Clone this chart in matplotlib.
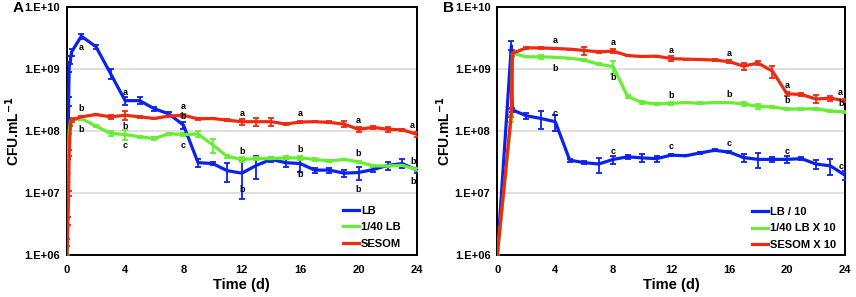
import numpy as np
import matplotlib
matplotlib.use('Agg')
import matplotlib.pyplot as plt
from matplotlib.lines import Line2D
from matplotlib.ticker import FixedLocator, FixedFormatter, NullLocator

plt.rcParams['font.family'] = ['Liberation Sans', 'DejaVu Sans']
plt.rcParams['font.weight'] = 'bold'
plt.rcParams['mathtext.default'] = 'bf'

# panel A : time in days (first points are hours 0,1,2,3,4,6,8)
time_a = [0, 0.042, 0.083, 0.125, 0.167, 0.25, 0.333] + list(range(1, 25))

lb_a = [1e6, 1.0e7, 4.5e7, 3e8, 1.1e9, 1.4e9, 1.9e9,
        3.4e9, 2.3e9, 8.5e8, 3.1e8, 3.1e8, 2.3e8, 1.9e8, 1.25e8, 3.1e7, 3.0e7,
        2.3e7, 2.1e7, 2.8e7, 3.5e7, 3.1e7, 3.0e7, 2.35e7, 2.35e7, 2.1e7, 2.15e7,
        2.4e7, 2.8e7, 3.0e7, 2.35e7]
lb_a_err = [0, 2e6, 1e7, 5e7, 2e8, 2e8, 2.5e8,
            3e8, 1.5e8, 1.5e8, 5e7, 4e7, 1.5e7, 1.5e7, 1.5e7, 5e6, 2e6,
            8e6, 1.3e7, 1.1e7, 3e6, 5e6, 8e6, 2e6, 2e6, 3e6, 5e6,
            2e6, 4e6, 5e6, 2e6]

lb40_a = [1e6, 3.5e6, 1.8e7, 4.5e7, 1.0e8, 1.4e8, 1.5e8,
          1.6e8, 1.2e8, 9.2e7, 8.8e7, 8.1e7, 7.6e7, 9.1e7, 8.8e7, 9.0e7, 6.0e7,
          3.9e7, 3.5e7, 3.6e7, 3.6e7, 3.7e7, 3.7e7, 3.5e7, 3.3e7, 3.5e7, 3.2e7,
          2.75e7, 2.75e7, 2.8e7, 2.4e7]
lb40_a_err = [0, 5e5, 3e6, 5e6, 1e7, 1e7, 1e7,
              1e7, 5e6, 1e7, 1.5e7, 3e6, 5e6, 3e6, 5e6, 1e7, 1.5e7,
              2e6, 3e6, 2e6, 2e6, 2e6, 3e6, 2e6, 1e6, 1e6, 1.5e6,
              1e6, 1e6, 1e6, 1e6]

sesom_a = [1e6, 1.6e6, 3.6e6, 1.0e7, 4.5e7, 1.3e8, 1.5e8,
           1.7e8, 1.85e8, 1.7e8, 1.8e8, 1.7e8, 1.6e8, 1.75e8, 1.8e8, 1.58e8, 1.6e8,
           1.5e8, 1.42e8, 1.42e8, 1.42e8, 1.3e8, 1.4e8, 1.42e8, 1.38e8, 1.3e8, 1.07e8,
           1.15e8, 1.07e8, 1.05e8, 8.9e7]
sesom_a_err = [0, 2e5, 5e5, 1e6, 5e6, 1e7, 1e7,
               5e6, 5e6, 1.5e7, 3e7, 5e6, 5e6, 5e6, 1e7, 5e6, 5e6,
               5e6, 1.5e7, 2e7, 2e7, 5e6, 3e6, 3e6, 5e6, 1.5e7, 1e7,
               5e6, 1e7, 5e6, 8e6]

# panel B
time_b = [0, 0.97, 1.04] + list(range(2, 25))

lb_b = [1e6, 2.4e9, 2.2e8, 1.77e8, 1.6e8, 1.42e8, 3.4e7, 3.1e7, 2.95e7, 3.5e7,
        3.85e7, 3.7e7, 3.6e7, 4.1e7, 4.0e7, 4.45e7, 4.9e7, 4.6e7, 3.75e7, 3.5e7,
        3.5e7, 3.5e7, 3.6e7, 2.95e7, 2.75e7, 1.95e7]
lb_b_err = [0, 4e8, 2e7, 2e7, 5e7, 4e7, 2e6, 2e6, 8e6, 5e6,
            3e6, 5e6, 4e6, 2e6, 1e6, 1e6, 2e6, 2e6, 6e6, 1e7,
            3e6, 4e6, 2e6, 5e6, 8e6, 3e6]

lb40_b = [1e6, 1.6e8, 1.8e9, 1.58e9, 1.58e9, 1.55e9, 1.5e9, 1.4e9, 1.2e9, 1.1e9,
          3.6e8, 2.9e8, 2.75e8, 2.8e8, 2.9e8, 2.8e8, 2.9e8, 2.9e8, 2.75e8, 2.5e8,
          2.45e8, 2.27e8, 2.27e8, 2.3e8, 2.1e8, 2.05e8]
lb40_b_err = [0, 2e7, 8e7, 3e7, 1e8, 3e7, 3e7, 3e7, 5e7, 2.5e8,
              2e7, 2e7, 1e7, 2e7, 1e7, 1e7, 1e7, 1e7, 2.5e7, 2e7,
              1e7, 1e7, 1e7, 1e7, 1e7, 1e7]

sesom_b = [1e6, 2.0e8, 1.8e9, 2.2e9, 2.2e9, 2.15e9, 2.1e9, 2.0e9, 1.9e9, 1.95e9,
           1.65e9, 1.6e9, 1.62e9, 1.48e9, 1.45e9, 1.43e9, 1.4e9, 1.32e9, 1.12e9, 1.25e9,
           9.3e8, 4.0e8, 3.9e8, 3.3e8, 3.4e8, 3.1e8]
sesom_b_err = [0, 3e7, 2e8, 5e7, 5e7, 5e7, 5e7, 3e8, 5e7, 1.5e8,
               5e7, 3e7, 3e7, 1.5e8, 3e7, 3e7, 3e7, 8e7, 1.5e8, 8e7,
               2e8, 3e7, 2e7, 5e7, 3e7, 2e7]

labels_a = ['LB', '1/40 LB', 'SESOM']
labels_b = ['LB / 10', '1/40 LB X 10', 'SESOM X 10']
colors = ['#0a22ee', '#66ee33', '#ee2a10']

yticks = [1e6, 1e7, 1e8, 1e9, 1e10]
ytick_labels = ['1.E+06', '1.E+07', '1.E+08', '1.E+09', '1.E+10']
xticks = [0, 4, 8, 12, 16, 20, 24]

# statistical letters: (series index, day, letter, above?)
letters_a = [(0, 1, 'a', False), (0, 4, 'a', True), (0, 8, 'b', True),
             (0, 12, 'b', False), (0, 16, 'b', False), (0, 20, 'b', False), (0, 24, 'b', False),
             (1, 1, 'b', False), (1, 4, 'c', False), (1, 8, 'c', False),
             (1, 12, 'b', True), (1, 16, 'b', True), (1, 20, 'b', True), (1, 24, 'b', True),
             (2, 1, 'b', True), (2, 4, 'b', False), (2, 8, 'a', True),
             (2, 12, 'a', True), (2, 16, 'a', True), (2, 20, 'a', True), (2, 24, 'a', True)]
letters_b = [(2, d, 'a', True) for d in [4, 8, 12, 16, 20, 24]] + \
            [(1, 4, 'b', False), (1, 8, 'b', False), (1, 12, 'b', True),
             (1, 16, 'b', True), (1, 20, 'b', True), (1, 24, 'b', True)] + \
            [(0, d, 'c', True) for d in [4, 8, 12, 16, 20, 24]]


def draw_panel(ax, t, series, errs, labels, letters, tag, leg_anchor):
    ax.set_yscale('log')
    for y, e, c in zip(series, errs, colors):
        ax.errorbar(t, y, yerr=e, color=c, lw=2.3, elinewidth=1.3, capsize=2.5,
                    capthick=1.3, zorder=3)
    for si, day, letter, above in letters:
        i = t.index(day)
        dy = 6 if above else -8
        if si == 0 and not above and day in (12, 20):
            dy = -12
        dx = -3 if day == 24 else 0
        ax.annotate(letter, (t[i], series[si][i]), xytext=(dx, dy),
                    textcoords='offset points', ha='center', va='center',
                    fontsize=6.5, fontweight='bold', zorder=5)
    ax.set_xlim(0, 24)
    ax.set_ylim(1e6, 1e10)
    ax.yaxis.set_major_locator(FixedLocator(yticks))
    ax.yaxis.set_major_formatter(FixedFormatter(ytick_labels))
    ax.yaxis.set_minor_locator(NullLocator())
    ax.set_xticks(xticks)
    ax.tick_params(length=0, labelsize=8)
    ax.tick_params(axis='x', pad=7)
    ax.tick_params(axis='y', pad=5)
    for lbl in ax.get_xticklabels() + ax.get_yticklabels():
        lbl.set_fontweight('bold')
    ax.grid(axis='y', color='#d9d9d9', lw=1.2, zorder=0)
    for s in ax.spines.values():
        s.set_linewidth(1.4)
        s.set_color('black')
    ax.set_xlabel('Time (d)', fontsize=10.5, fontweight='bold', labelpad=2)
    ax.set_ylabel('CFU.mL$^{-1}$', fontsize=10, fontweight='bold')
    ax.yaxis.set_label_coords(-0.128, 0.5)
    handles = [Line2D([], [], color=c, lw=2.3) for c in colors]
    leg = ax.legend(handles, labels, loc='lower right', bbox_to_anchor=leg_anchor,
                    frameon=False, fontsize=8, handlelength=1.5,
                    handletextpad=0.15, labelspacing=0.6, borderaxespad=0,
                    borderpad=0)
    for txt in leg.get_texts():
        txt.set_fontweight('bold')
    ax.text(-0.155, 0.995, tag, transform=ax.transAxes, fontsize=11,
            fontweight='bold', ha='left', va='center')


fig = plt.figure(figsize=(8.56, 2.97), dpi=100)
ax_a = fig.add_axes([0.078, 0.141, 0.409, 0.835])
ax_b = fig.add_axes([0.581, 0.141, 0.406, 0.835])

draw_panel(ax_a, time_a, [lb_a, lb40_a, sesom_a], [lb_a_err, lb40_a_err, sesom_a_err],
           labels_a, letters_a, 'A', (0.955, 0.025))
draw_panel(ax_b, time_b, [lb_b, lb40_b, sesom_b], [lb_b_err, lb40_b_err, sesom_b_err],
           labels_b, letters_b, 'B', (0.975, 0.02))

plt.savefig('out.png', dpi=100)
plt.close()
